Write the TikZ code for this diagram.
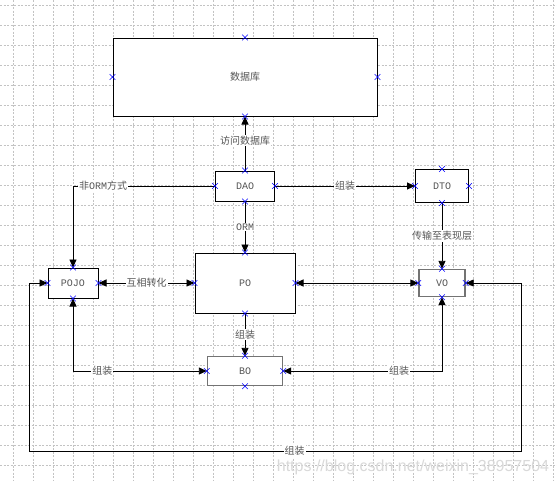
\documentclass[tikz,border=0pt]{standalone}
\usepackage{fontspec}
\setmainfont{Liberation Mono}
\newfontfamily\cjk{Noto Sans CJK SC}
\newfontfamily\wmfont{Liberation Sans}
\usetikzlibrary{arrows.meta,shapes.misc}
\definecolor{txt}{RGB}{85,85,85}
\definecolor{gridc}{RGB}{195,195,195}
\begin{document}
\begin{tikzpicture}[x=1pt,y=-1pt,
  box/.style={draw=black, line width=1pt, fill=white, text=txt, inner sep=0pt,
    font=\fontsize{10}{12}\selectfont},
  greybox/.style={box, draw=black!55, line width=1.4pt},
  conn/.style={line width=0.9pt, draw=black},
  tip/.tip={Triangle[length=8pt,width=7pt]},
  lbl/.style={fill=white, text=txt, inner sep=1pt, font=\fontsize{10}{12}\selectfont},
  xmark/.style={cross out, draw=blue, minimum size=5pt, inner sep=0pt, line width=0.6pt},
  gridline/.style={draw=gridc, line width=0.6pt, dash pattern=on 2pt off 1.5pt}]
\useasboundingbox (0,0) rectangle (557,480);
\fill[white] (0,0) rectangle (557,480);
% grid
\foreach \x in {13,33,...,553} \draw[gridline] (\x,0) -- (\x,480);
\foreach \y in {5,25,...,465} \draw[gridline] (0,\y) -- (557,\y);
% watermark
\node[text=black!15, font=\wmfont\fontsize{16}{18}\selectfont, inner sep=0pt] (wm) at (413,467) {https://blog.csdn.net/weixin\_38957504};
% boxes
\node[box, minimum width=264pt, minimum height=78pt] (db) at (245,77) {{\cjk 数据库}};
\node[box, minimum width=59pt, minimum height=30pt] (dao) at (245,186) {DAO};
\node[box, minimum width=53pt, minimum height=33pt] (dto) at (442,186) {DTO};
\node[box, minimum width=100pt, minimum height=60pt] (po) at (245,283) {PO};
\node[box, minimum width=50pt, minimum height=30pt] (pojo) at (73,283) {POJO};
\node[greybox, minimum width=46pt, minimum height=27pt] (vo) at (442,283) {VO};
\node[greybox, minimum width=75pt, minimum height=29pt] (bo) at (245,371) {BO};
% connector corner points
\coordinate (c1) at (73,186);
\coordinate (l1) at (29,283);
\coordinate (l2) at (29,451);
\coordinate (r2) at (521,451);
\coordinate (r1) at (521,283);
% connectors
\draw[conn,-tip] (dao.north) -- node[lbl, pos=0.55] {{\cjk 访问数据库}} (db.south);
\draw[conn,-tip] (dao.west) -- (c1) -- (pojo.north);
\node[lbl, anchor=west] (l_nonorm) at (78,186) {{\cjk 非}ORM{\cjk 方式}};
\draw[conn,-tip] (dao.south) -- node[lbl, pos=0.5] {ORM} (po.north);
\draw[conn,-tip] (dao.east) -- node[lbl, pos=0.5] {{\cjk 组装}} (dto.west);
\draw[conn,-tip] (dto.south) -- node[lbl, pos=0.5] {{\cjk 传输至表现层}} (vo.north);
\draw[conn,tip-tip] (pojo.east) -- node[lbl, pos=0.5] {{\cjk 互相转化}} (po.west);
\draw[conn,tip-tip] (po.east) -- (vo.west);
\draw[conn,-tip] (po.south) -- node[lbl, pos=0.5] {{\cjk 组装}} (bo.north);
\draw[conn,tip-tip] (pojo.south) |- node[lbl, pos=0.61] {{\cjk 组装}} (bo.west);
\draw[conn,tip-tip] (vo.south) |- node[lbl, pos=0.635] {{\cjk 组装}} (bo.east);
\draw[conn,tip-tip] (pojo.west) -- (l1) -- (l2) -- node[lbl, pos=0.54] {{\cjk 组装}} (r2) -- (r1) -- (vo.east);
% connection marks
\foreach \n in {db,dao,dto,po,pojo,vo,bo}
  \foreach \a in {north,south,east,west}
    \node[xmark] at (\n.\a) {};
\end{tikzpicture}
\end{document}
